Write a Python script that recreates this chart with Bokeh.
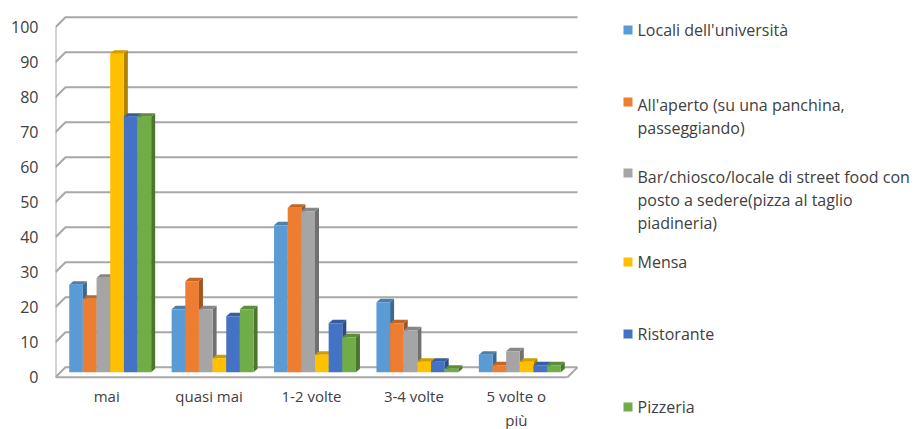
from bokeh.plotting import figure
from bokeh.layouts import row
from bokeh.models import Range1d, FixedTicker, ColumnDataSource
from bokeh.embed import file_html
from bokeh.resources import INLINE
from bokeh.core.properties import value

# ---- data -------------------------------------------------------------
categories = ["mai", "quasi mai", "1-2 volte", "3-4 volte", "5 volte o\npiù"]
series_labels = [
    "Locali dell'università",
    "All'aperto (su una panchina,\npasseggiando)",
    "Bar/chiosco/locale di street food con\nposto a sedere(pizza al taglio\npiadineria)",
    "Mensa",
    "Ristorante",
    "Pizzeria",
]
locali = [25, 18, 42, 20, 5]
aperto = [21, 26, 47, 14, 2]
bar_chiosco = [27, 18, 46, 12, 6]
mensa = [91, 4, 5, 3, 3]
ristorante = [73, 16, 14, 3, 2]
pizzeria = [73, 18, 10, 1, 2]
y_ticks = list(range(0, 101, 10))

# ---- styling ----------------------------------------------------------
colors = ["#5B9BD5", "#ED7D31", "#A5A5A5", "#FFC000", "#4472C4", "#70AD47"]
FONT = "Open Sans"
TEXT_COLOR = "#404040"
GRID_COLOR = "#A8A8A8"

PX_X = 102.4   # pixels per category on the front plane
PX_Y = 3.5     # pixels per unit on the front plane
FRAME_W, FRAME_H = 530, 372
ZERO_PX = 368.7  # distance from frame top to the front zero line


def dx(px):
    return px / PX_X


def dy(px):
    return px / PX_Y


def shade(hex_color, f):
    r, g, b = (int(hex_color[i:i + 2], 16) for i in (1, 3, 5))
    return "#%02x%02x%02x" % (int(r * f), int(g * f), int(b * f))


WALL_DX, WALL_DY = dx(10), dy(10)   # back wall depth
BAR_DX, BAR_DY = dx(3.5), dy(5)     # plane where the columns stand
EXT_DX, EXT_DY = dx(4), dy(3.5)     # column depth

n_cat = len(categories)
series = [locali, aperto, bar_chiosco, mensa, ristorante, pizzeria]
n_ser = len(series)

p = figure(
    frame_width=FRAME_W, frame_height=FRAME_H,
    x_range=Range1d(0, FRAME_W / PX_X),
    y_range=Range1d(-(FRAME_H - ZERO_PX) / PX_Y, ZERO_PX / PX_Y),
    output_backend="svg", toolbar_location=None,
    min_border_left=55, min_border_right=15, min_border_top=8, min_border_bottom=40,
)
p.frame_align = False
p.outline_line_color = None
p.grid.visible = False
p.background_fill_color = "white"

# ---- walls and floor ----------------------------------------------------
gx, gy = [], []
for v in y_ticks:
    gx.append([0, WALL_DX, n_cat + WALL_DX])
    gy.append([v, v + WALL_DY, v + WALL_DY])
gx.append([0, 0]); gy.append([0, y_ticks[-1]])                 # front-left edge
gx.append([0, n_cat]); gy.append([0, 0])                        # floor front edge
gx.append([n_cat, n_cat + WALL_DX]); gy.append([0, WALL_DY])    # floor right edge
p.multi_line(xs=gx, ys=gy, line_color=GRID_COLOR, line_width=2)

# ---- 3D columns ---------------------------------------------------------
bw = 0.8 / n_ser
front = dict(left=[], right=[], bottom=[], top=[], color=[])
sides = dict(xs=[], ys=[], color=[])
tops = dict(xs=[], ys=[], color=[])
for ci in range(n_cat):
    for si, vals in enumerate(series):
        v = vals[ci]
        x0 = ci + 0.1 + si * bw + BAR_DX
        x1 = x0 + bw
        y0 = BAR_DY
        y1 = BAR_DY + v
        front["left"].append(x0); front["right"].append(x1)
        front["bottom"].append(y0); front["top"].append(y1)
        front["color"].append(colors[si])
        sides["xs"].append([x1, x1 + EXT_DX, x1 + EXT_DX, x1])
        sides["ys"].append([y0, y0 + EXT_DY, y1 + EXT_DY, y1])
        sides["color"].append(shade(colors[si], 0.68))
        tops["xs"].append([x0, x0 + EXT_DX, x1 + EXT_DX, x1])
        tops["ys"].append([y1, y1 + EXT_DY, y1 + EXT_DY, y1])
        tops["color"].append(shade(colors[si], 0.82))

p.patches(xs="xs", ys="ys", fill_color="color", line_color=None, source=ColumnDataSource(sides))
p.patches(xs="xs", ys="ys", fill_color="color", line_color=None, source=ColumnDataSource(tops))
p.quad(left="left", right="right", bottom="bottom", top="top", fill_color="color",
       line_color=None, source=ColumnDataSource(front))

# ---- axes ----------------------------------------------------------------
for ax in (p.xaxis[0], p.yaxis[0]):
    ax.axis_line_color = None
    ax.major_tick_line_color = None
    ax.minor_tick_line_color = None
    ax.major_tick_out = 0
    ax.major_tick_in = 0
    ax.major_label_text_font = FONT
    ax.major_label_text_color = TEXT_COLOR

p.yaxis[0].major_label_text_font_size = "16px"
p.yaxis[0].ticker = FixedTicker(ticks=y_ticks, minor_ticks=[])
p.yaxis[0].major_label_standoff = 17

cat_pos = [ci + 0.5 for ci in range(n_cat)]
p.xaxis[0].major_label_text_font_size = "15px"
p.xaxis[0].ticker = FixedTicker(ticks=cat_pos, minor_ticks=[])
p.xaxis[0].major_label_overrides = {pos: name for pos, name in zip(cat_pos, categories)}
p.xaxis[0].major_label_standoff = 5

# ---- legend ----------------------------------------------------------------
LEGEND_MARK_Y = [29.5, 101.5, 172.5, 261.5, 333.5, 406.5]   # marker centres
LEGEND_TEXT_TOP = [18, 93, 165, 250, 322, 395]              # first-line tops
leg = figure(
    width=318, height=429, x_range=Range1d(0, 318), y_range=Range1d(429, 0),
    output_backend="svg", toolbar_location=None, min_border=0,
    x_axis_location=None, y_axis_location=None,
)
leg.frame_align = False
leg.outline_line_color = None
leg.grid.visible = False
leg.scatter(x=[27.5] * n_ser, y=LEGEND_MARK_Y, marker="square",
            size=9, fill_color=colors, line_color=None)
leg.text(x=[37] * n_ser, y=LEGEND_TEXT_TOP, text=series_labels,
         text_font=value(FONT), text_font_size="16px", text_color=TEXT_COLOR,
         text_baseline="top", text_align="left", text_line_height=1.06)

layout = row(p, leg)
open("out.html", "w").write(file_html(layout, INLINE))
